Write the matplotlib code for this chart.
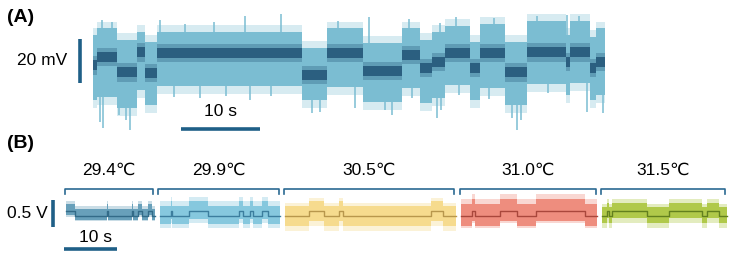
import numpy as np
import matplotlib
matplotlib.use("Agg")
import matplotlib.pyplot as plt

plt.rcParams['font.family'] = ['Liberation Sans', 'DejaVu Sans']

# ---------------- Panel A data (time in s, voltage in mV) ----------------
a_edges = [0, 0.5, 3.0, 5.6, 6.6, 8.1, 26.5, 29.6, 34.2, 39.1, 41.4, 42.9, 44.6,
           47.7, 49.0, 52.2, 54.9, 59.9, 60.4, 62.9, 63.7, 64.8]
a_level = [-2.3, 1.4, -5.5, 3.6, -5.9, 3.2, -6.8, 3.2, -5.0, 2.3, -3.6, -0.9, 3.2,
           -3.6, 3.2, -5.5, 3.6, -0.9, 3.6, -3.6, -0.9]
a_top = [11.4, 14.5, 9.1, 12.7, 8.2, 12.7, 5.5, 14.5, 7.7, 14.5, 9.1, 12.7, 15.5,
         8.2, 16.4, 8.2, 17.7, 11.4, 17.7, 10.5, 14.5]
a_bottom = [-18.2, -16.8, -21.8, -13.6, -20.5, -11.8, -18.2, -12.3, -19.1, -12.7,
            -19.5, -17.3, -11.4, -18.2, -12.7, -20.5, -10.9, -15.9, -10.5, -18.2, -15.9]
# isolated spikes: time, extreme value
a_spike_t = [0.9, 1.3, 3.3, 4.2, 4.7, 10.2, 13.5, 16.8, 19.9, 22.5, 27.7, 28.7, 33.2,
             37.0, 37.8, 40.4, 43.5, 44.1, 46.3, 50.1, 53.0, 53.7, 54.2, 57.6, 62.5, 64.6,
             1.1, 2.4, 8.5, 11.7, 15.3, 19.2, 23.8, 31.0, 34.9, 40.0, 43.9, 46.0,
             50.8, 56.2, 60.0, 61.5]
a_spike_v = [-28.2, -30.9, -25.0, -27.3, -31.8, -16.8, -17.3, -16.5, -18.2, -16.4,
             -24.1, -23.6, -21.8, -22.7, -25.0, -17.3, -26.4, -22.7, -15.9, -17.7,
             -26.4, -31.8, -27.3, -15.0, -23.6, -24.1,
             18.2, 17.3, 18.2, 16.4, 17.3, 20.0, 20.9, 17.7, 19.5, 18.6, 16.8, 19.5,
             19.1, 20.0, 20.5, 20.0]

# ---------------- Panel B data (time in s, voltage in V) ----------------
temps = ["29.4\u2103", "29.9\u2103", "30.5\u2103", "31.0\u2103", "31.5\u2103"]
durations = [16.8, 22.8, 32.3, 25.8, 23.6]
b_edges = [
    [0, 1.7, 7.7, 8.0, 12.4, 12.6, 13.6, 14.3, 15.5, 16.2, 16.8],
    [0, 2.1, 2.4, 5.5, 9.2, 14.9, 15.7, 17.0, 17.7, 19.4, 20.4, 22.8],
    [0, 4.5, 7.4, 10.2, 10.9, 27.5, 29.8, 32.3],
    [0, 2.1, 2.8, 7.4, 10.6, 14.3, 23.4, 25.8],
    [0, 1.0, 1.3, 1.9, 8.5, 12.6, 18.9, 19.8, 22.1, 23.6],
]
b_states = [
    [1, 0, 1, 0, 1, 0, 1, 0, 1, 0],
    [0, 1, 0, 1, 0, 1, 0, 1, 0, 1, 0],
    [0, 1, 0, 1, 0, 1, 0],
    [0, 1, 0, 1, 0, 1, 0],
    [0, 1, 0, 1, 0, 1, 0, 1, 0],
]
step_height = 0.09
band_up = [0.13, 0.19, 0.18, 0.22, 0.16]
band_down = [0.08, 0.15, 0.18, 0.18, 0.13]
fringe_up = [0.18, 0.27, 0.25, 0.31, 0.22]
fringe_down = [0.10, 0.22, 0.27, 0.22, 0.22]

band_colors = ["#68a0ba", "#86c8de", "#f6db8e", "#ee8d7e", "#b0c94a"]
line_colors = ["#336b88", "#3c7e9e", "#b8974c", "#a9473c", "#62801e"]
bracket_color = "#2b6a92"
bar_color = "#1f5f87"
a_light = "#7bbdd2"
a_dark = "#2b5f80"

fig = plt.figure(figsize=(7.35, 2.59), dpi=100)

# ---------------- Panel A ----------------
axA = fig.add_axes([0, 119 / 259, 1, 140 / 259])
axA.set_xlim(-93 / 7.9, (735 - 93) / 7.9)
axA.set_ylim(-80 / 2.2, 60 / 2.2)
axA.axis('off')

ex = np.array(a_edges)
lv = np.append(a_level, a_level[-1])
tp = np.append(a_top, a_top[-1])
bt = np.append(a_bottom, a_bottom[-1])
axA.fill_between(ex, bt - 3.5, tp + 3.0, step='post', color=a_light, alpha=0.3, lw=0)
axA.fill_between(ex, bt, tp, step='post', color=a_light, lw=0)
for t, v in zip(a_spike_t, a_spike_v):
    i = min(np.searchsorted(ex, t, side='right') - 1, len(a_level) - 1)
    base = a_bottom[i] if v < 0 else a_top[i]
    axA.vlines(t, min(base, v), max(base, v), color=a_light, lw=1.1)
axA.fill_between(ex, lv - 4.3, lv + 4.0, step='post', color=a_dark, alpha=0.35, lw=0)
axA.fill_between(ex, lv - 2.4, lv + 2.4, step='post', color=a_dark, lw=0)

# scale bars A
axA.plot([-1.65, -1.65], [-10.5, 9.5], color=bar_color, lw=2.6, solid_capstyle='butt')
axA.plot([11.1, 21.1], [-31.4, -31.4], color=bar_color, lw=2.6, solid_capstyle='butt')
axA.text(-3.2, -0.3, "20 mV", ha='right', va='center', fontsize=12.5)
axA.text(16.1, -23.6, "10 s", ha='center', va='center', fontsize=12.5)

# ---------------- Panel B ----------------
axB = fig.add_axes([0, 0, 1, 119 / 259])
axB.set_xlim(-66 / 5.3, (735 - 66) / 5.3)
axB.set_ylim(-43 / 54, 76 / 54)
axB.axis('off')

gap = 0.85
start = 0.0
for k in range(len(temps)):
    e = np.array(b_edges[k]) + start
    s = np.array(b_states[k] + [b_states[k][-1]]) * step_height
    axB.fill_between(e, s - fringe_down[k], s + fringe_up[k], step='post',
                     color=band_colors[k], alpha=0.35, lw=0)
    axB.fill_between(e, s - band_down[k], s + band_up[k], step='post',
                     color=band_colors[k], lw=0)
    axB.step(e, s, where='post', color=line_colors[k], lw=1.0)
    # bracket
    x0, x1 = start - 0.2, start + durations[k] - 0.3
    axB.plot([x0, x0, x1, x1], [0.41, 0.5, 0.5, 0.41], color=bracket_color, lw=1.2)
    axB.text((x0 + x1) / 2, 0.85, temps[k], ha='center', va='center', fontsize=12.5)
    start += durations[k] + gap

# scale bars B
axB.plot([-2.45, -2.45], [-0.204, 0.296], color=bar_color, lw=2.6, solid_capstyle='butt')
axB.plot([-0.38, 9.62], [-0.611, -0.611], color=bar_color, lw=2.6, solid_capstyle='butt')
axB.text(-3.4, 0.04, "0.5 V", ha='right', va='center', fontsize=12.5)
axB.text(5.5, -0.39, "10 s", ha='center', va='center', fontsize=12.5)

fig.text(7 / 735, 1 - 18 / 259, "(A)", ha='left', va='center', fontsize=14, fontweight='bold')
fig.text(7 / 735, 1 - 143 / 259, "(B)", ha='left', va='center', fontsize=14, fontweight='bold')

fig.savefig("out.png", dpi=100)
